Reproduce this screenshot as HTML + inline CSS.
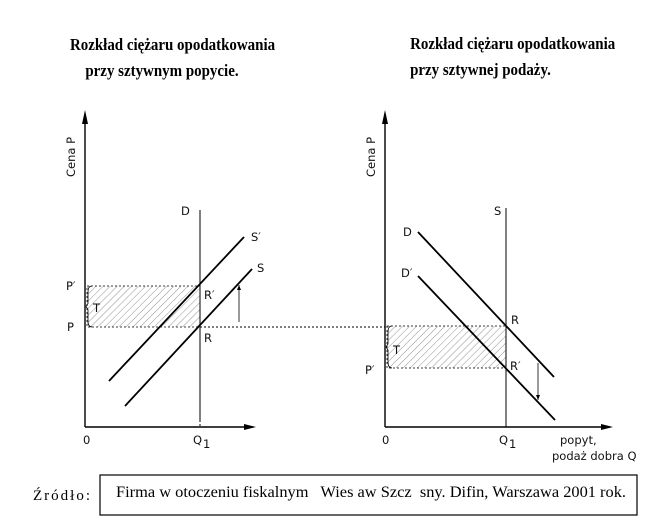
<!DOCTYPE html>
<html><head><meta charset="utf-8">
<style>
body{margin:0;background:#fff;width:651px;height:525px;overflow:hidden}
svg{display:block}
.t{font-family:"Liberation Serif",serif;font-weight:bold;font-size:17px;transform-origin:0 0}
.s{font-family:"DejaVu Sans","Liberation Sans",sans-serif;font-size:11.5px;fill:#111}
</style></head><body>
<svg id="c" width="651" height="525" viewBox="0 0 651 525" xmlns="http://www.w3.org/2000/svg">
<defs><pattern id="h" width="5" height="5" patternUnits="userSpaceOnUse" patternTransform="rotate(45)"><line x1="0" y1="0" x2="0" y2="5" stroke="#777" stroke-width="0.8"/></pattern></defs>
<text class="t" x="70" y="50" transform="scale(0.88,1) translate(9.5,0)">Rozkład ciężaru opodatkowania</text>
<text class="t" x="86" y="76" transform="scale(0.88,1) translate(11,0)">przy sztywnym popycie.</text>
<text class="t" x="466" y="49" transform="scale(0.88,1)">Rozkład ciężaru opodatkowania</text>
<text class="t" x="466" y="75" transform="scale(0.88,1)">przy sztywnej podaży.</text>
<g id="L"></g><g id="R"></g>
<line x1="200" y1="327" x2="385" y2="327" stroke="#000" stroke-width="1" stroke-dasharray="2,2"/>
<text x="33" y="500" font-family="Liberation Serif,serif" font-size="15" letter-spacing="2">Źródło:</text>
<rect x="100" y="475" width="537" height="40" fill="none" stroke="#000" stroke-width="1.2"/>
<text x="116" y="497" font-family="Liberation Serif,serif" font-size="15.5" textLength="510" lengthAdjust="spacingAndGlyphs" style="white-space:pre" xml:space="preserve">Firma w otoczeniu fiskalnym   Wies aw Szcz  sny. Difin, Warszawa 2001 rok.</text>
</svg>
<script>
// left chart data (Q, P units)
const leftQ1=[115];
const leftPrices=[100,141];
const leftSupply=[[40,21],[167,158]];
const leftSupplyTax=[[24,46],[159,190]];
const leftArrow=[154,[105,142]];
// right chart data
const rightQ1=[121];
const rightPrices=[101,59];
const rightDemand=[[33,195],[169,50]];
const rightDemandTax=[[33,151],[170,7]];
const rightArrow=[153,[64,27]];
const NS="http://www.w3.org/2000/svg";
function mk(g,tag,at,txt){const e=document.createElementNS(NS,tag);for(const k in at)e.setAttribute(k,at[k]);if(txt)e.textContent=txt;g.appendChild(e);return e;}
function chart(g,ox,oy,xmax,q1,p1,p2,l1,l2,ar,labels,right){
 const X=v=>ox+v,Y=v=>oy-v;
 let e;
 e=mk(g,'rect',{x:X(2),y:Y(Math.max(p1,p2)),width:X(q1)-X(2),height:Math.abs(p1-p2),fill:'url(#h)',stroke:'#000','stroke-width':0.8,'stroke-dasharray':'2,2'});
 
 
 e=mk(g,'line',{x1:X(0),y1:Y(0),x2:X(0),y2:Y(310),stroke:'#000','stroke-width':1.4});
 
 
 e=mk(g,'path',{d:`M${X(0)-3},${Y(303)} L${X(0)},${Y(317)} L${X(0)+3},${Y(303)}Z`});
 
 
 e=mk(g,'line',{x1:X(0),y1:Y(0),x2:X(xmax),y2:Y(0),stroke:'#000','stroke-width':1.4});
 
 
 e=mk(g,'path',{d:`M${X(xmax-9)},${Y(0)-3} L${X(xmax+3)},${Y(0)} L${X(xmax-9)},${Y(0)+3}Z`});
 
 
 e=mk(g,'line',{x1:X(q1),y1:Y(right?219:217),x2:X(q1),y2:Y(right?0:7),stroke:'#000','stroke-width':1});
 
 
 if(!right){e=mk(g,'line',{x1:X(q1),y1:Y(7),x2:X(q1),y2:Y(0),stroke:'#000','stroke-dasharray':'2,2'});
 
 }
 [[l1,right?'demand-line':'supply-line'],[l2,right?'demand-after-tax-line':'supply-after-tax-line']].forEach(([l,n])=>{
  e=mk(g,'line',{x1:X(l[0][0]),y1:Y(l[0][1]),x2:X(l[1][0]),y2:Y(l[1][1]),stroke:'#000','stroke-width':1.8});
  
  
 });
 const ax=X(ar[0]),a0=Y(ar[1][0]),a1=Y(ar[1][1]),d=a1>a0?-5:5;
 e=mk(g,'line',{x1:ax,y1:a0,x2:ax,y2:a1,stroke:'#000','stroke-width':0.8});
 
 
 mk(g,'path',{d:`M${ax-2},${a1+d} L${ax},${a1} L${ax+2},${a1+d}Z`});
 const bt=Y(Math.max(p1,p2)),bb=Y(Math.min(p1,p2));
 e=mk(g,'path',{d:`M${X(7)},${bt} Q${X(3)},${bt} ${X(3)},${bt+6} L${X(3)},${(bt+bb)/2-3} L${X(1)},${(bt+bb)/2} L${X(3)},${(bt+bb)/2+3} L${X(3)},${bb-6} Q${X(3)},${bb} ${X(7)},${bb}`,fill:'none',stroke:'#000','stroke-width':0.8});
 
 
 labels.forEach(([t,x,y,n])=>{e=mk(g,'text',{class:'s',x:x,y:y},t);
  
  });
 e=mk(g,'text',{class:'s',transform:`translate(${X(-10)},${Y(250)}) rotate(-90)`},'Cena P');
 
 
}
const Lg=document.getElementById('L'),Rg=document.getElementById('R');
chart(Lg,85,427,168,leftQ1[0],leftPrices[0],leftPrices[1],leftSupply,leftSupplyTax,leftArrow,[
 ['D',181,215,'label-d'],['S\u2032',251,241,'label-s-prime'],['S',257,272,'label-s'],['R\u2032',204,299,'label-r-prime'],['R',204,342,'label-r'],
 ['P\u2032',66,290,'label-p-prime'],['P',67,331,'label-p'],['T',93,312,'label-t'],['0',83,444,'x-tick-0'],['Q',193,444,'x-tick-q1']],false);
mk(Lg,'text',{class:'s',x:203,y:448,'font-size':8},'1');
chart(Rg,385,427,225,rightQ1[0],rightPrices[0],rightPrices[1],rightDemand,rightDemandTax,rightArrow,[
 ['S',494,215,'label-s'],['D',403,236,'label-d'],['D\u2032',401,277,'label-d-prime'],['R',511,324,'label-r'],['R\u2032',510,370,'label-r-prime'],
 ['P\u2032',365,374,'label-p-prime'],['T',393,354,'label-t'],['0',382,444,'x-tick-0'],['Q',499,444,'x-tick-q1'],
 ['popyt,',560,444,'x-axis-title-1'],['podaż dobra Q',552,460,'x-axis-title-2']],true);
mk(Rg,'text',{class:'s',x:509,y:448,'font-size':8},'1');
</script>
</body></html>
